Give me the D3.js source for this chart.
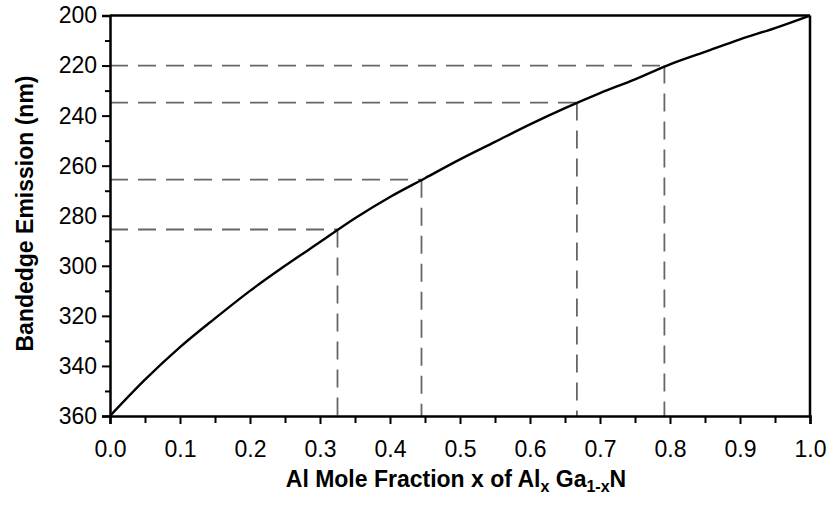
<!DOCTYPE html>
<html>
<head>
<meta charset="utf-8">
<script src="https://cdn.jsdelivr.net/npm/d3@7"></script>
<style>
  html, body { margin: 0; padding: 0; background: #fff; }
  svg { display: block; }
</style>
</head>
<body>
<svg id="chart" width="838" height="512"></svg>
<script>
// Curve data: Al mole fraction vs bandedge emission (nm)
const moleFraction = [0, 0.05, 0.1, 0.15, 0.2, 0.25, 0.3, 0.35, 0.4, 0.45, 0.5, 0.55, 0.6, 0.65, 0.7, 0.75, 0.8, 0.85, 0.9, 0.95, 1.0];
const emission     = [360, 345.5, 332.5, 321, 310, 300, 290.5, 281, 272.5, 265, 257.5, 250.5, 243.5, 237, 231, 225.5, 219.5, 214.5, 209.5, 205, 200];

// Guide (dashed) points
const guideX = [0.325, 0.445, 0.667, 0.792];
const guideY = [285.5, 265.6, 234.8, 220];

// Ticks
const xMajorTicks = [0, 0.1, 0.2, 0.3, 0.4, 0.5, 0.6, 0.7, 0.8, 0.9, 1.0];
const xMinorTicks = [0.05, 0.15, 0.25, 0.35, 0.45, 0.55, 0.65, 0.75, 0.85, 0.95];
const yMajorTicks = [200, 220, 240, 260, 280, 300, 320, 340, 360];
const yMinorTicks = [210, 230, 250, 270, 290, 310, 330, 350];

const xTitle = "Al Mole Fraction x of Al";
const yTitle = "Bandedge Emission (nm)";

const svg = d3.select("#chart");
const mLeft = 110, mRight = 810, mTop = 15.5, mBottom = 416;

const x = d3.scaleLinear().domain([0, 1]).range([mLeft, mRight]);
const y = d3.scaleLinear().domain([200, 360]).range([mTop, mBottom]);

const font = "Liberation Sans, Arial, Helvetica, sans-serif";

// Dashed guides
const guides = svg.append("g").attr("stroke", "#666").attr("stroke-width", 1.8)
  .attr("stroke-dasharray", "18,10").attr("fill", "none");
guideX.forEach((gx, i) => {
  guides.append("line").attr("x1", x(0)).attr("x2", x(gx))
    .attr("y1", y(guideY[i])).attr("y2", y(guideY[i]));
  guides.append("line").attr("x1", x(gx)).attr("x2", x(gx))
    .attr("y1", y(guideY[i])).attr("y2", y(360));
});

// Curve
const pts = moleFraction.map((m, i) => [m, emission[i]]);
svg.append("path").datum(pts)
  .attr("fill", "none").attr("stroke", "#000").attr("stroke-width", 2.4)
  .attr("d", d3.line().x(d => x(d[0])).y(d => y(d[1])).curve(d3.curveMonotoneX));

// X axis
svg.append("g").attr("transform", `translate(0,${mBottom})`)
  .call(d3.axisBottom(x).tickValues(xMajorTicks).tickFormat(d3.format(".1f")).tickSize(8).tickPadding(17));
svg.append("g").attr("transform", `translate(0,${mBottom})`)
  .call(d3.axisBottom(x).tickValues(xMinorTicks).tickFormat("").tickSize(7))
  .call(g => g.select(".domain").remove());

// Y axis
svg.append("g").attr("transform", `translate(${mLeft},0)`)
  .call(d3.axisLeft(y).tickValues(yMajorTicks).tickFormat(d3.format("d")).tickSize(8).tickPadding(5));
svg.append("g").attr("transform", `translate(${mLeft},0)`)
  .call(d3.axisLeft(y).tickValues(yMinorTicks).tickFormat("").tickSize(5))
  .call(g => g.select(".domain").remove());

svg.selectAll(".tick line").attr("stroke", "#000").attr("stroke-width", 2);
svg.selectAll(".domain").attr("stroke", "#000").attr("stroke-width", 2.5);
svg.selectAll(".tick text").attr("font-family", font).attr("font-size", 23).attr("fill", "#000");

// Frame top and right
svg.append("line").attr("x1", mLeft).attr("x2", mRight).attr("y1", mTop).attr("y2", mTop)
  .attr("stroke", "#000").attr("stroke-width", 2.5);
svg.append("line").attr("x1", mRight).attr("x2", mRight).attr("y1", mTop).attr("y2", mBottom)
  .attr("stroke", "#000").attr("stroke-width", 2.5);

// X title with subscripts
const xt = svg.append("text").attr("x", 456).attr("y", 487)
  .attr("text-anchor", "middle").attr("font-family", font).attr("font-weight", "bold")
  .attr("font-size", 23).attr("fill", "#000");
xt.append("tspan").text(xTitle);
xt.append("tspan").attr("font-size", 16).attr("dy", 5).text("x");
xt.append("tspan").attr("dy", -5).text(" Ga");
xt.append("tspan").attr("font-size", 16).attr("dy", 5).text("1-x");
xt.append("tspan").attr("dy", -5).text("N");

// Y title
svg.append("text").attr("transform", "translate(33,213.5) rotate(-90)")
  .attr("text-anchor", "middle").attr("font-family", font).attr("font-weight", "bold")
  .attr("font-size", 23).attr("fill", "#000").text(yTitle);
</script>
</body>
</html>
